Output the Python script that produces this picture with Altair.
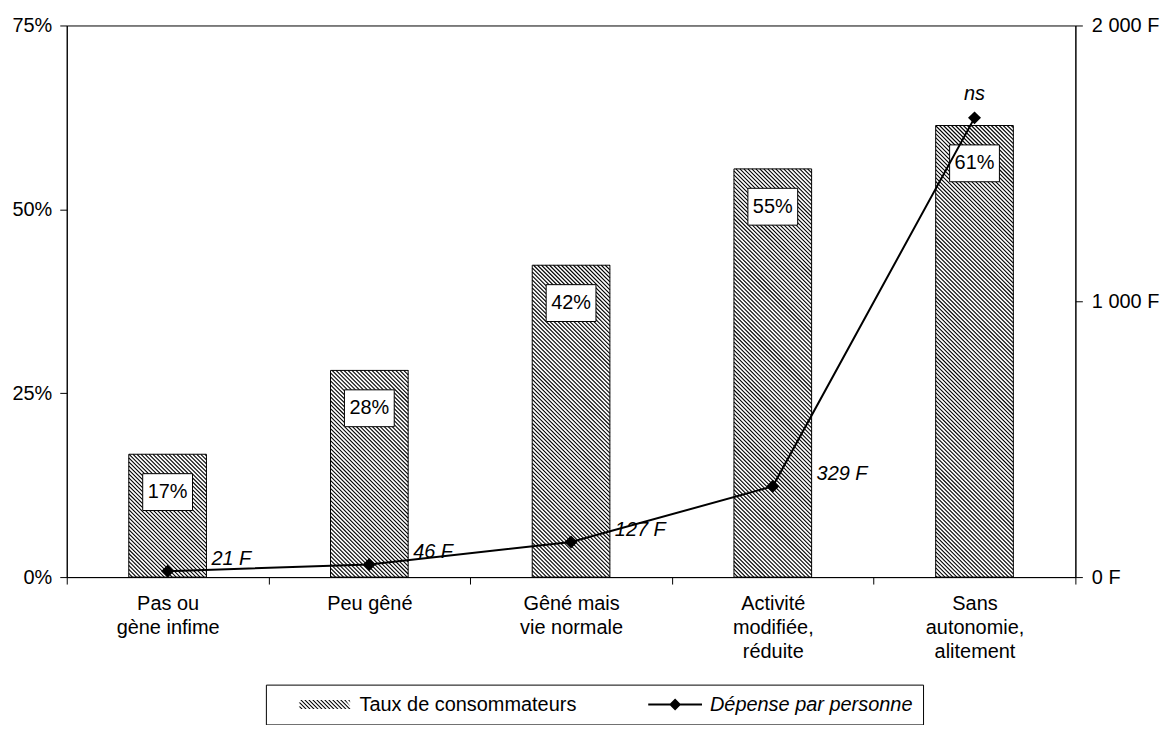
import json
import altair as alt
import pandas as pd

# ---------------- data ----------------
categories = [
    ["Pas ou", "gène infime"],
    ["Peu gêné"],
    ["Gêné mais", "vie normale"],
    ["Activité", "modifiée,", "réduite"],
    ["Sans", "autonomie,", "alitement"],
]
taux = [16.7, 28.1, 42.4, 55.5, 61.4]
taux_labels = ["17%", "28%", "42%", "55%", "61%"]
depense = [21, 46, 127, 329, 1665]
depense_labels = ["21 F", "46 F", "127 F", "329 F", "ns"]
series = ["Taux de consommateurs", "Dépense par personne"]
pct_ticks = [0, 25, 50, 75]
franc_ticks = [0, 1000, 2000]

# ---------------- geometry / style ----------------
W, H = 1013, 554
XMIN, XMAX = -0.5, 4.5
PMAX, FMAX = 75, 2000
BAR_HALF = 0.1925
HATCH_STEP = 4.0
FONT = "Liberation Sans"
FS = 20

df = pd.DataFrame({
    "idx": list(range(len(taux))),
    "taux": taux,
    "taux_label": taux_labels,
    "dep": depense,
    "dep_label": depense_labels,
})


def hatch_segments(xl, xr, yt, yb, step):
    """45 degree '\\' hatch segments inside a pixel rectangle."""
    segs = []
    k0 = int((yt - xr) // step) - 1
    k1 = int((yb - xl) // step) + 1
    for k in range(k0, k1 + 1):
        c = k * step
        xs = max(xl, yt - c)
        xe = min(xr, yb - c)
        if xe - xs > 0.3:
            segs.append((xs, xs + c, xe, xe + c))
    return segs


def px_x(v):
    return (v - XMIN) / (XMAX - XMIN) * W


def px_y(p):
    return H - p / PMAX * H


def dx_(px):
    return XMIN + px / W * (XMAX - XMIN)


def dy_(py):
    return (H - py) / H * PMAX


rows = []
for i, p in enumerate(taux):
    for (x1, y1, x2, y2) in hatch_segments(px_x(i - BAR_HALF), px_x(i + BAR_HALF), px_y(p), H, HATCH_STEP):
        rows.append({"hx1": dx_(x1), "hy1": dy_(y1), "hx2": dx_(x2), "hy2": dy_(y2)})
hatch_df = pd.DataFrame(rows)

# legend symbol paths (unit = 10 px for symbolSize 400)
U = 10.0
swatch_parts = []
for (x1, y1, x2, y2) in hatch_segments(-26, 26, -4.5, 4.5, HATCH_STEP):
    a = min(x1 + 1.5, 26)
    b = min(x2 + 1.5, 26)
    swatch_parts.append(
        f"M{x1/U:.3f},{y1/U:.3f}L{x2/U:.3f},{y2/U:.3f}L{b/U:.3f},{y2/U:.3f}L{a/U:.3f},{y1/U:.3f}Z"
    )
swatch_path = "".join(swatch_parts)
line_path = "M-2.7,-0.1L2.7,-0.1L2.7,0.1L-2.7,0.1ZM0,-0.6L0.6,0L0,0.6L-0.6,0Z"
box_path = "M-1,-0.74L1,-0.74L1,0.74L-1,0.74Z"

# ---------------- scales / axes ----------------
xscale = alt.Scale(domain=[XMIN, XMAX], nice=False, zero=False)
pscale = alt.Scale(domain=[0, PMAX], nice=False)
fscale = alt.Scale(domain=[0, FMAX], nice=False)

cat_json = json.dumps(categories, ensure_ascii=False)
xaxis = alt.Axis(
    values=[-0.5, 0.5, 1.5, 2.5, 3.5, 4.5],
    labelExpr=f"datum.value < {XMAX - 0.1} ? {cat_json}[round(datum.value + 0.5)] : ''",
    labelOffset=W / 10,
    title=None, grid=False, tickSize=7, labelPadding=10,
    labelFontSize=FS, labelLineHeight=24, labelBaseline="top", labelAlign="center",
    labelOverlap=False, labelBound=False, labelFlush=False,
)
paxis = alt.Axis(
    values=pct_ticks, labelExpr="datum.value + '%'", title=None, grid=False,
    tickSize=7, labelPadding=8, labelFontSize=FS, orient="left",
)
faxis = alt.Axis(
    values=franc_ticks,
    labelExpr="replace(format(datum.value, ','), ',', ' ') + ' F'",
    title=None, grid=False, tickSize=7, labelPadding=9, labelFontSize=FS, orient="right",
)


def X(field):
    return alt.X(field, type="quantitative", scale=xscale, axis=xaxis)


def YP(field):
    return alt.Y(field, type="quantitative", scale=pscale, axis=paxis)


def YF(field):
    return alt.Y(field, type="quantitative", scale=fscale, axis=faxis)


base = alt.Chart(df)

bar_calc = base.transform_calculate(
    x0=f"datum.idx - {BAR_HALF}", x1=f"datum.idx + {BAR_HALF}", zero="0"
)
bars_bg = bar_calc.mark_rect(fill="white").encode(
    x=X("x0"), x2="x1", y=YP("taux"), y2="zero"
)
hatch = alt.Chart(hatch_df).mark_rule(color="black", strokeWidth=1.1).encode(
    x=X("hx1"), x2="hx2", y=YP("hy1"), y2="hy2"
)
bars_outline = bar_calc.mark_rect(fillOpacity=0, stroke="black", strokeWidth=1).encode(
    x=X("x0"), x2="x1", y=YP("taux"), y2="zero"
)
boxes = base.mark_point(
    shape=box_path, size=2500, filled=True, fill="white", stroke="black",
    strokeWidth=1, opacity=1, yOffset=38,
).encode(x=X("idx"), y=YP("taux"))
box_text = base.mark_text(
    font=FONT, fontSize=FS, color="black", yOffset=38, baseline="middle", align="center"
).encode(x=X("idx"), y=YP("taux"), text="taux_label:N")

legend_layer = alt.Chart(pd.DataFrame({"series": series})).mark_point(
    filled=True, color="black", opacity=0
).encode(
    shape=alt.Shape(
        "series:N",
        scale=alt.Scale(domain=series, range=[swatch_path, line_path]),
        legend=alt.Legend(
            title=None, orient="none", legendX=200, legendY=662, direction="horizontal",
            padding=10, strokeColor="black", fillColor="white", cornerRadius=0,
            labelFont=FONT, labelFontSize=FS, labelColor="black", labelLimit=400,
            labelFontStyle={"expr": "datum.value == 'Dépense par personne' ? 'italic' : 'normal'"},
            symbolSize=400, symbolOpacity=1, symbolStrokeWidth=0,
            symbolFillColor="black", symbolOffset=39, labelOffset=25, columnPadding=50,
        ),
    )
)

left = alt.layer(bars_bg, hatch, bars_outline, boxes, box_text, legend_layer)

line = base.mark_line(color="black", strokeWidth=2).encode(x=X("idx"), y=YF("dep"))
points = base.mark_point(shape="diamond", filled=True, color="black", size=170, opacity=1).encode(
    x=X("idx"), y=YF("dep")
)
dep_text = base.transform_filter("datum.dep_label != 'ns'").mark_text(
    font=FONT, fontSize=FS, fontStyle="italic", color="black", align="left",
    baseline="middle", dx=44, dy=-12,
).encode(x=X("idx"), y=YF("dep"), text="dep_label:N")
ns_text = base.transform_filter("datum.dep_label == 'ns'").mark_text(
    font=FONT, fontSize=FS, fontStyle="italic", color="black", align="center",
    baseline="middle", dy=-24,
).encode(x=X("idx"), y=YF("dep"), text="dep_label:N")

right = alt.layer(line, points, dep_text, ns_text)

chart = (
    alt.layer(left, right)
    .resolve_scale(y="independent")
    .properties(
        width=W, height=H,
        autosize=alt.AutoSizeParams(type="none"),
        padding={"left": 59, "top": 16, "right": 88, "bottom": 147},
        background="white",
    )
    .configure_axis(
        labelFont=FONT, labelColor="black", domainColor="black", tickColor="black",
        domainWidth=1, tickWidth=1,
    )
    .configure_view(stroke="black", strokeWidth=1)
)

chart.save("out.html", embed_options={"renderer": "svg", "actions": False})
